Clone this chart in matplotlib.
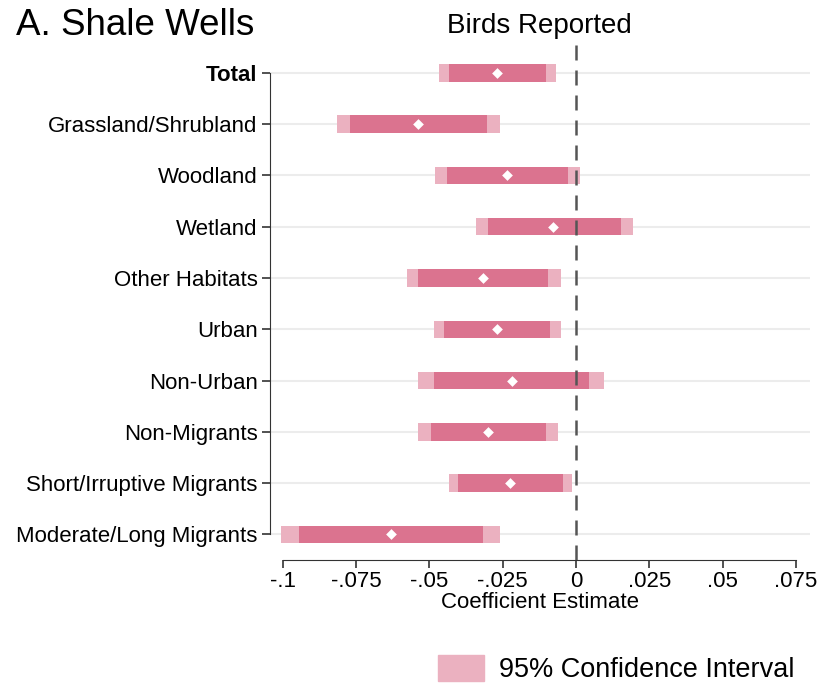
import numpy as np
import matplotlib as mpl
mpl.use('Agg')
import matplotlib.pyplot as plt
from matplotlib.patches import Patch

plt.rcParams['font.family'] = ['Liberation Sans', 'DejaVu Sans']

# Coefficient estimates and confidence bounds, one entry per outcome group
groups = ['Total', 'Grassland/Shrubland', 'Woodland', 'Wetland', 'Other Habitats',
          'Urban', 'Non-Urban', 'Non-Migrants', 'Short/Irruptive Migrants',
          'Moderate/Long Migrants']
coef = [-0.0271, -0.0538, -0.0234, -0.0077, -0.0316, -0.0271, -0.0220, -0.0299, -0.0227, -0.0633]
lo95 = [-0.0469, -0.0814, -0.0480, -0.0340, -0.0578, -0.0483, -0.0538, -0.0538, -0.0435, -0.1005]
hi95 = [-0.0070, -0.0261, 0.0015, 0.0193, -0.0053, -0.0053, 0.0094, -0.0060, -0.0015, -0.0261]
lo90 = [-0.0435, -0.0770, -0.0439, -0.0299, -0.0538, -0.0452, -0.0486, -0.0495, -0.0404, -0.0944]
hi90 = [-0.0101, -0.0305, -0.0026, 0.0152, -0.0097, -0.0090, 0.0043, -0.0101, -0.0046, -0.0319]
xticks = [-0.1, -0.075, -0.05, -0.025, 0, 0.025, 0.05, 0.075]
xticklabels = ['-.1', '-.075', '-.05', '-.025', '0', '.025', '.05', '.075']

light = '#ebb1c0'
dark = '#db738f'

fig = plt.figure(figsize=(8.19, 6.91), dpi=100)
ax = fig.add_axes([0.3297, 0.1896, 0.989 - 0.3297, 0.945 - 0.1896])

y = np.arange(len(groups))
h = 0.34
for i in range(len(groups)):
    ax.axhline(y[i], color='#ececec', lw=1.5, zorder=0)
ax.barh(y, np.array(hi95) - np.array(lo95), left=lo95, height=h, color=light, zorder=2)
ax.barh(y, np.array(hi90) - np.array(lo90), left=lo90, height=h, color=dark, zorder=3)
ax.scatter(coef, y, marker='D', s=30, color='white', zorder=4, linewidths=0)
ax.axvline(0, color='#555555', lw=1.8, ls=(0, (6, 4)), zorder=5)

ax.set_xlim(-0.1044, 0.0798)
ax.set_ylim(9.5, -0.68)
ax.set_yticks(y)
ax.set_yticklabels(groups, fontsize=16)
ax.get_yticklabels()[0].set_fontweight('bold')
ax.set_xticks(xticks)
ax.set_xticklabels(xticklabels, fontsize=16)
ax.set_xlabel('Coefficient Estimate', fontsize=16, labelpad=0)

for s in ['top', 'right']:
    ax.spines[s].set_visible(False)
ax.spines['left'].set_bounds(0, 9)
ax.spines['bottom'].set_bounds(-0.1, 0.075)
ax.spines['left'].set_color('#333333')
ax.spines['bottom'].set_color('#333333')
ax.tick_params(axis='both', color='#333333', length=6, width=1.2)
ax.tick_params(axis='y', pad=3)
ax.tick_params(axis='x', pad=2)

fig.text(0.659, 0.963, 'Birds Reported', fontsize=20, va='center', ha='center')
fig.text(0.019, 0.963, 'A. Shale Wells', fontsize=26.5, va='center', ha='left')

fig.legend(handles=[Patch(color=light, label='95% Confidence Interval')],
           loc='center', bbox_to_anchor=(0.752, 0.0315), frameon=False,
           fontsize=19.5, handlelength=1.7, handleheight=1.1, handletextpad=0.55)

plt.savefig('out.png', dpi=100)
